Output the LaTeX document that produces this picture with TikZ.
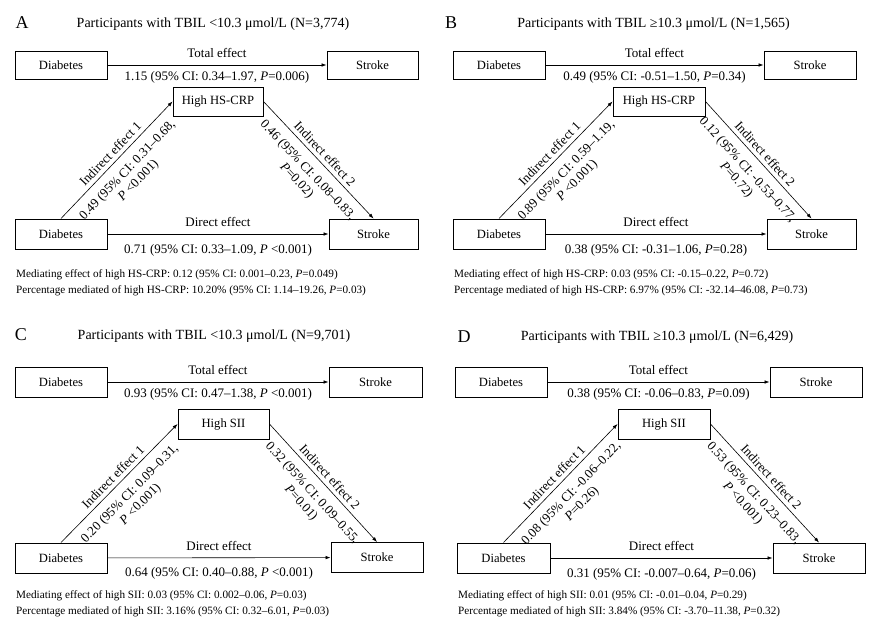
\documentclass[tikz,border=0pt]{standalone}
\usepackage{fontspec}
\setmainfont{Liberation Serif}
\usetikzlibrary{arrows.meta,calc}
\newcommand{\pval}{\textit{P}}
\begin{document}
\begin{tikzpicture}[x=1pt,y=-1pt,
  box/.style={draw, line width=1pt, minimum width=92pt, minimum height=30pt, inner sep=0pt, font=\fontsize{12.6}{14}\selectfont},
  arr/.style={line width=0.6pt, -{Latex[length=5pt,width=3.6pt]}},
  lbl/.style={font=\fontsize{13}{15}\selectfont, inner sep=0pt, align=center},
  upl/.style={lbl, yshift=12pt},
  dnl/.style={lbl, yshift=-12pt},
  dnd/.style={lbl, yshift=-16pt},
  sup/.style={lbl, sloped, above, inner ysep=4pt},
  sdn/.style={lbl, sloped, below, inner ysep=9pt},
  ttl/.style={font=\fontsize{14}{16}\selectfont, inner sep=0pt},
  letter/.style={font=\fontsize{18}{20}\selectfont, inner sep=0pt},
  note/.style={font=\fontsize{11.2}{14}\selectfont, anchor=base west, inner sep=0pt}]
\useasboundingbox (0,0) rectangle (876,635);
\fill[white] (0,0) rectangle (876,635);

% ---------- Panel A ----------
\node[letter] (aL) at (22,23) {A};
\node[ttl] (aT) at (213,24) {Participants with TBIL <10.3 μmol/L (N=3,774)};
\node[box, minimum height=28pt] (aD1) at (61,65) {Diabetes};
\node[box, minimum height=28pt, minimum width=91pt] (aS1) at (372.5,65) {Stroke};
\node[box, minimum width=90pt, minimum height=29pt] (aM) at (218,101.5) {High HS-CRP};
\node[box] (aD2) at (61,234) {Diabetes};
\node[box, minimum width=89pt] (aS2) at (373.5,234) {Stroke};
\draw[arr] (aD1) -- (aS1) node[midway, upl] {Total effect}
  node[midway, dnl] {1.15 (95\% CI: 0.34–1.97, \pval=0.006)};
\draw[arr] (aD2.north) -- (aM.west)
  node[midway, sup] {Indirect effect 1}
  node[midway, sdn] {0.49 (95\% CI: 0.31–0.68,\\ \pval{} <0.001)};
\draw[arr] (aM.east) -- (aS2.north)
  node[midway, sup] {Indirect effect 2}
  node[midway, sdn] {0.46 (95\% CI: 0.08–0.83,\\ \pval=0.02)};
\draw[arr] (aD2) -- (aS2) node[midway, upl] {Direct effect}
  node[midway, dnd] {0.71 (95\% CI: 0.33–1.09, \pval{} <0.001)};
\node[note] (aN1) at (16,277) {Mediating effect of high HS-CRP: 0.12 (95\% CI: 0.001–0.23, \pval=0.049)};
\node[note] (aN2) at (16,293) {Percentage mediated of high HS-CRP: 10.20\% (95\% CI: 1.14–19.26, \pval=0.03)};

% ---------- Panel B ----------
\node[letter] (bL) at (451,23) {B};
\node[ttl] (bT) at (653.5,24) {Participants with TBIL ≥10.3 μmol/L (N=1,565)};
\node[box, minimum height=28pt] (bD1) at (499,65) {Diabetes};
\node[box, minimum height=28pt] (bS1) at (810,65) {Stroke};
\node[box, minimum height=29pt] (bM) at (659,101.5) {High HS-CRP};
\node[box] (bD2) at (499,234) {Diabetes};
\node[box, minimum width=89pt] (bS2) at (811.5,234) {Stroke};
\draw[arr] (bD1) -- (bS1) node[midway, upl] {Total effect}
  node[midway, dnl] {0.49 (95\% CI: -0.51–1.50, \pval=0.34)};
\draw[arr] (bD2.north) -- (bM.west)
  node[midway, sup] {Indirect effect 1}
  node[midway, sdn] {0.89 (95\% CI: 0.59–1.19,\\ \pval{} <0.001)};
\draw[arr] (bM.east) -- (bS2.north)
  node[midway, sup] {Indirect effect 2}
  node[midway, sdn] {0.12 (95\% CI: -0.53–0.77,\\ \pval=0.72)};
\draw[arr] (bD2) -- (bS2) node[midway, upl] {Direct effect}
  node[midway, dnd] {0.38 (95\% CI: -0.31–1.06, \pval=0.28)};
\node[note] (bN1) at (454,277) {Mediating effect of high HS-CRP: 0.03 (95\% CI: -0.15–0.22, \pval=0.72)};
\node[note] (bN2) at (454,293) {Percentage mediated of high HS-CRP: 6.97\% (95\% CI: -32.14–46.08, \pval=0.73)};

% ---------- Panel C ----------
\node[letter] (cL) at (21,335) {C};
\node[ttl] (cT) at (214,336) {Participants with TBIL <10.3 μmol/L (N=9,701)};
\node[box] (cD1) at (61,382) {Diabetes};
\node[box, minimum width=93pt] (cS1) at (375.5,382) {Stroke};
\node[box, minimum width=91pt] (cM) at (223.5,424) {High SII};
\node[box] (cD2) at (61,558) {Diabetes};
\node[box] (cS2) at (377,557.5) {Stroke};
\draw[arr] (cD1) -- (cS1) node[midway, upl] {Total effect}
  node[midway, dnl] {0.93 (95\% CI: 0.47–1.38, \pval{} <0.001)};
\draw[arr] (cD2.north) -- (cM.west)
  node[midway, sup] {Indirect effect 1}
  node[midway, sdn] {0.20 (95\% CI: 0.09–0.31,\\ \pval{} <0.001)};
\draw[arr] (cM.east) -- (cS2.north)
  node[midway, sup] {Indirect effect 2}
  node[midway, sdn] {0.32 (95\% CI: 0.09–0.55,\\ \pval=0.01)};
\draw[arr] (cD2) -- (cS2) node[midway, upl] {Direct effect}
  node[midway, dnd] {0.64 (95\% CI: 0.40–0.88, \pval{} <0.001)};
\node[note] (cN1) at (16,598) {Mediating effect of high SII: 0.03 (95\% CI: 0.002–0.06, \pval=0.03)};
\node[note] (cN2) at (16,614) {Percentage mediated of high SII: 3.16\% (95\% CI: 0.32–6.01, \pval=0.03)};

% ---------- Panel D ----------
\node[letter] (dL) at (464,337) {D};
\node[ttl] (dT) at (657,337) {Participants with TBIL ≥10.3 μmol/L (N=6,429)};
\node[box] (dD1) at (501,382) {Diabetes};
\node[box] (dS1) at (816,382) {Stroke};
\node[box] (dM) at (664,424) {High SII};
\node[box, minimum width=93pt] (dD2) at (503.5,558) {Diabetes};
\node[box] (dS2) at (819,558) {Stroke};
\draw[arr] (dD1) -- (dS1) node[midway, upl] {Total effect}
  node[midway, dnl] {0.38 (95\% CI: -0.06–0.83, \pval=0.09)};
\draw[arr] (dD2.north) -- (dM.west)
  node[midway, sup] {Indirect effect 1}
  node[midway, sdn] {0.08 (95\% CI: -0.06–0.22,\\ \pval=0.26)};
\draw[arr] (dM.east) -- (dS2.north)
  node[midway, sup] {Indirect effect 2}
  node[midway, sdn] {0.53 (95\% CI: 0.23–0.83,\\ \pval{} <0.001)};
\draw[arr] (dD2) -- (dS2) node[midway, upl] {Direct effect}
  node[midway, dnd] {0.31 (95\% CI: -0.007–0.64, \pval=0.06)};
\node[note] (dN1) at (458,598) {Mediating effect of high SII: 0.01 (95\% CI: -0.01–0.04, \pval=0.29)};
\node[note] (dN2) at (458,614) {Percentage mediated of high SII: 3.84\% (95\% CI: -3.70–11.38, \pval=0.32)};
\end{tikzpicture}
\end{document}
